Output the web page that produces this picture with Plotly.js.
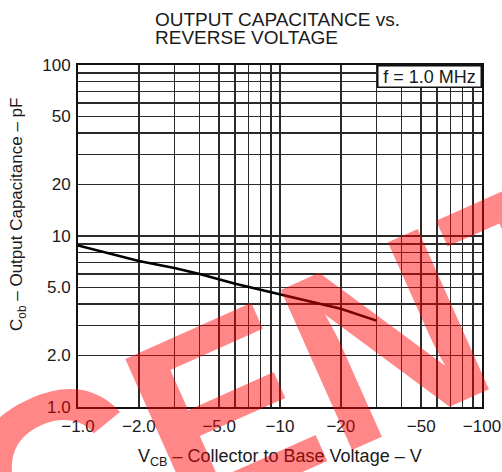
<!DOCTYPE html>
<html>
<head>
<meta charset="utf-8">
<script src="https://cdn.plot.ly/plotly-3.0.1.min.js"></script>
<style>html,body{margin:0;padding:0;background:#fff;}</style>
</head>
<body>
<div id="chart" style="width:502px;height:472px;"></div>
<script>
// Curve data: |V_CB| (V) vs C_ob (pF)
const vcb = [1, 2, 3, 4, 6, 10, 20, 30];
const cob = [8.8, 7.15, 6.5, 6.0, 5.25, 4.55, 3.75, 3.2];

// Labelled ticks and grid lines
const xTickVals = [1, 2, 5, 10, 20, 50, 100];
const xTickText = ['\u22121.0', '\u22122.0', '\u22125.0', '\u221210', '\u221220', '\u221250', '\u2212100'];
const yTickVals = [1, 2, 5, 10, 20, 50, 100];
const yTickText = ['1.0', '2.0', '5.0', '10', '20', '50', '100'];
const gridVals = [1,2,3,4,5,6,7,8,9,10,20,30,40,50,60,70,80,90,100];

const titleLines = ['OUTPUT CAPACITANCE vs.', 'REVERSE VOLTAGE'];
const xTitle = 'V<sub>CB</sub> \u2013 Collector to Base Voltage \u2013 V';
const yTitle = 'C<sub>ob</sub> \u2013 Output Capacitance \u2013 pF';
const noteText = 'f = 1.0 MHz';
const watermark = 'CENTRAL';

const FONT = '"Liberation Sans", Arial, Helvetica, sans-serif';
const INK = '#1a1a1a';

const trace = {
  x: vcb, y: cob, type: 'scatter', mode: 'lines',
  line: {color: '#000', width: 2.6},
  hoverinfo: 'skip', showlegend: false
};

const axisCommon = {
  type: 'log',
  showgrid: true, gridcolor: '#2a2a2a', gridwidth: 1.5,
  showline: true, linecolor: '#111', linewidth: 2, mirror: true,
  ticks: '', zeroline: false, tickmode: 'array',
  tickfont: {family: FONT, size: 17, color: INK},
  minor: {tickmode: 'array', tickvals: gridVals, showgrid: true, gridcolor: '#2a2a2a', gridwidth: 1.5, ticks: ''}
};

const layout = {
  width: 502, height: 472,
  margin: {l: 78, r: 20, t: 65, b: 65},
  paper_bgcolor: '#fff', plot_bgcolor: '#fff',
  showlegend: false,
  xaxis: Object.assign({}, axisCommon, {range: [0, 2], tickvals: xTickVals, ticktext: xTickText, ticklabelstandoff: 3}),
  yaxis: Object.assign({}, axisCommon, {range: [0, 2], tickvals: yTickVals, ticktext: yTickText, ticklabelstandoff: 2}),
  annotations: [
    {text: titleLines[0], xref: 'paper', yref: 'paper', x: 0.1856, y: (407-19.5)/342, xanchor: 'left', yanchor: 'middle',
     showarrow: false, font: {family: FONT, size: 19, color: INK}},
    {text: titleLines[1], xref: 'paper', yref: 'paper', x: 0.1856, y: (407-37.5)/342, xanchor: 'left', yanchor: 'middle',
     showarrow: false, font: {family: FONT, size: 19, color: INK}},
    {text: xTitle, xref: 'paper', yref: 'paper', x: (280-78)/404, y: (407-457)/342, xanchor: 'center', yanchor: 'middle',
     showarrow: false, font: {family: FONT, size: 18, color: INK}},
    {text: yTitle, xref: 'paper', yref: 'paper', x: (18-78)/404, y: (407-215)/342, xanchor: 'center', yanchor: 'middle',
     textangle: -90, showarrow: false, font: {family: FONT, size: 17, color: INK}},
    {text: noteText, xref: 'paper', yref: 'paper', x: 1, y: 1, xanchor: 'right', yanchor: 'top',
     showarrow: false, bgcolor: '#fff', bordercolor: '#111', borderwidth: 1.5, borderpad: 1,
     width: 100, height: 18, font: {family: FONT, size: 18, color: INK}},
    {text: watermark, xref: 'paper', yref: 'paper', x: (533-78)/404, y: (407-272)/342, xanchor: 'center', yanchor: 'middle',
     textangle: -24, showarrow: false, font: {family: FONT, size: 255, color: 'rgba(255,0,0,0.47)', weight: 'bold'}}
  ]
};

Plotly.newPlot('chart', [trace], layout, {displayModeBar: false, staticPlot: true});
</script>
</body>
</html>
